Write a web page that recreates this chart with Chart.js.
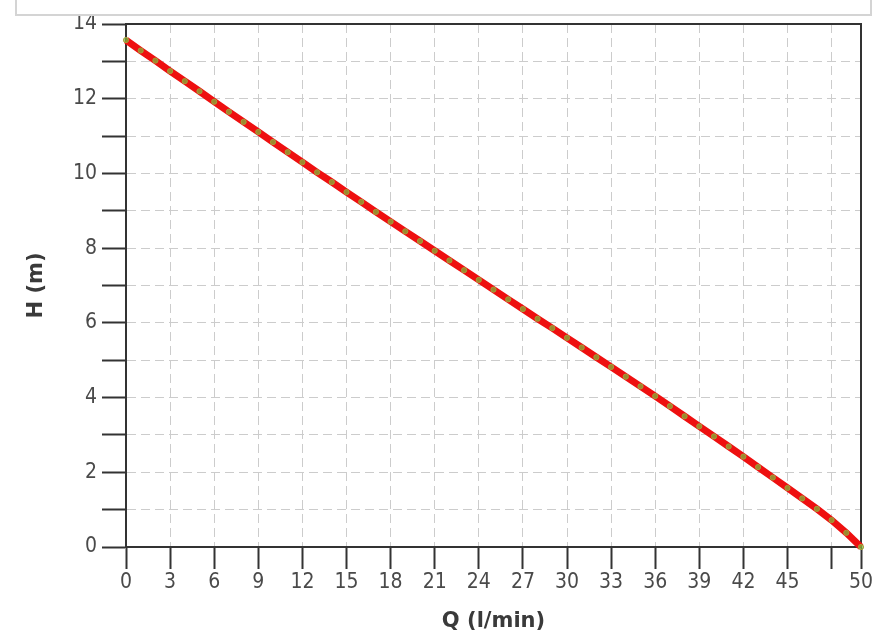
<!DOCTYPE html>
<html>
<head>
<meta charset="utf-8">
<title>Curva H-Q</title>
<script src="https://cdn.jsdelivr.net/npm/chart.js@4.4.1/dist/chart.umd.min.js"></script>
<style>
    body { margin: 0; background: #ffffff; }
    #wrap { position: relative; width: 885px; height: 640px; overflow: hidden; }
    /* resto del riquadro legenda tagliato in alto */
    #topBox {
        position: absolute; left: 15px; top: -6px; width: 853px; height: 18px;
        border: 2px solid #d4d4d4; background: #ffffff;
    }
</style>
</head>
<body>
<div id="wrap">
    <canvas id="curveChart" width="885" height="640"></canvas>
    <div id="topBox"></div>
</div>
<script>
// Dati: portata Q (l/min) e prevalenza H (m)
const flowValues = [0, 1, 2, 3, 4, 5, 6, 7, 8, 9, 10, 11, 12, 13, 14, 15, 16, 17, 18, 19, 20,
    21, 22, 23, 24, 25, 26, 27, 28, 29, 30, 31, 32, 33, 34, 35, 36, 37, 38, 39, 40,
    41, 42, 43, 44, 45, 46, 47, 48, 49, 50];
const headValues = [13.57, 13.29, 13.02, 12.74, 12.47, 12.20, 11.92, 11.65, 11.38, 11.11, 10.84,
    10.57, 10.30, 10.03, 9.77, 9.50, 9.24, 8.97, 8.71, 8.45, 8.19,
    7.93, 7.67, 7.41, 7.15, 6.89, 6.63, 6.37, 6.11, 5.86, 5.60,
    5.34, 5.08, 4.82, 4.56, 4.30, 4.04, 3.77, 3.50, 3.23, 2.96,
    2.69, 2.42, 2.14, 1.86, 1.58, 1.30, 1.02, 0.72, 0.38, 0.00];
const xTickValues = [0, 3, 6, 9, 12, 15, 18, 21, 24, 27, 30, 33, 36, 39, 42, 45, 48, 50];
const xHiddenLabels = [48];

const tickFont = { family: 'DejaVu Sans Condensed', size: 21 };
const titleFont = { family: 'DejaVu Sans', size: 21, weight: 'bold' };

// Cornice attorno all'area del grafico
const framePlugin = {
    id: 'frame',
    beforeDatasetsDraw(chart) {
        const { ctx, chartArea } = chart;
        ctx.save();
        ctx.strokeStyle = '#333333';
        ctx.lineWidth = 2;
        ctx.strokeRect(chartArea.left, chartArea.top,
            chartArea.right - chartArea.left, chartArea.bottom - chartArea.top);
        ctx.restore();
    }
};

const points = flowValues.map((q, i) => ({ x: q, y: headValues[i] }));

new Chart(document.getElementById('curveChart'), {
    type: 'line',
    data: {
        datasets: [{
            label: 'H',
            data: points,
            borderColor: '#ee1010',
            borderWidth: 7,
            tension: 0,
            pointRadius: 2.6,
            pointBorderWidth: 1,
            pointBorderColor: '#a89c38',
            pointBackgroundColor: 'rgba(120, 190, 60, 0.7)',
            clip: false
        }]
    },
    plugins: [framePlugin],
    options: {
        responsive: false,
        animation: false,
        devicePixelRatio: 1,
        layout: { padding: { top: 24, right: 24, left: 0, bottom: 0 } },
        plugins: {
            legend: { display: false },
            tooltip: { enabled: false }
        },
        scales: {
            x: {
                type: 'linear',
                min: 0,
                max: 50,
                afterBuildTicks: (scale) => {
                    scale.ticks = xTickValues.map(v => ({ value: v }));
                },
                afterFit: (scale) => { scale.height = 93; },
                ticks: {
                    autoSkip: false,
                    maxRotation: 0,
                    padding: 1,
                    color: '#4a4a4a',
                    font: tickFont,
                    callback: (v) => xHiddenLabels.includes(v) ? '' : v
                },
                grid: {
                    color: '#cccccc',
                    lineWidth: 1,
                    borderDash: [9, 5],
                    tickLength: 22,
                    tickColor: '#333333',
                    tickWidth: 2,
                    tickBorderDash: []
                },
                border: { color: '#333333', width: 2, dash: [9, 5] },
                title: {
                    display: true,
                    text: 'Q (l/min)',
                    color: '#3a3a3a',
                    font: titleFont,
                    padding: { top: 0, bottom: 6 }
                }
            },
            y: {
                min: 0,
                max: 14,
                afterFit: (scale) => { scale.width = 126; },
                ticks: {
                    stepSize: 1,
                    autoSkip: false,
                    padding: 5,
                    color: '#4a4a4a',
                    font: tickFont,
                    callback: (v) => v % 2 === 0 ? v : ''
                },
                grid: {
                    color: '#cccccc',
                    lineWidth: 1,
                    borderDash: [9, 5],
                    tickLength: 24,
                    tickColor: '#333333',
                    tickWidth: 2,
                    tickBorderDash: []
                },
                border: { color: '#333333', width: 2, dash: [9, 5] },
                title: {
                    display: true,
                    text: 'H (m)',
                    color: '#3a3a3a',
                    font: titleFont,
                    padding: { top: 24, bottom: 0 }
                }
            }
        }
    }
});
</script>
</body>
</html>
